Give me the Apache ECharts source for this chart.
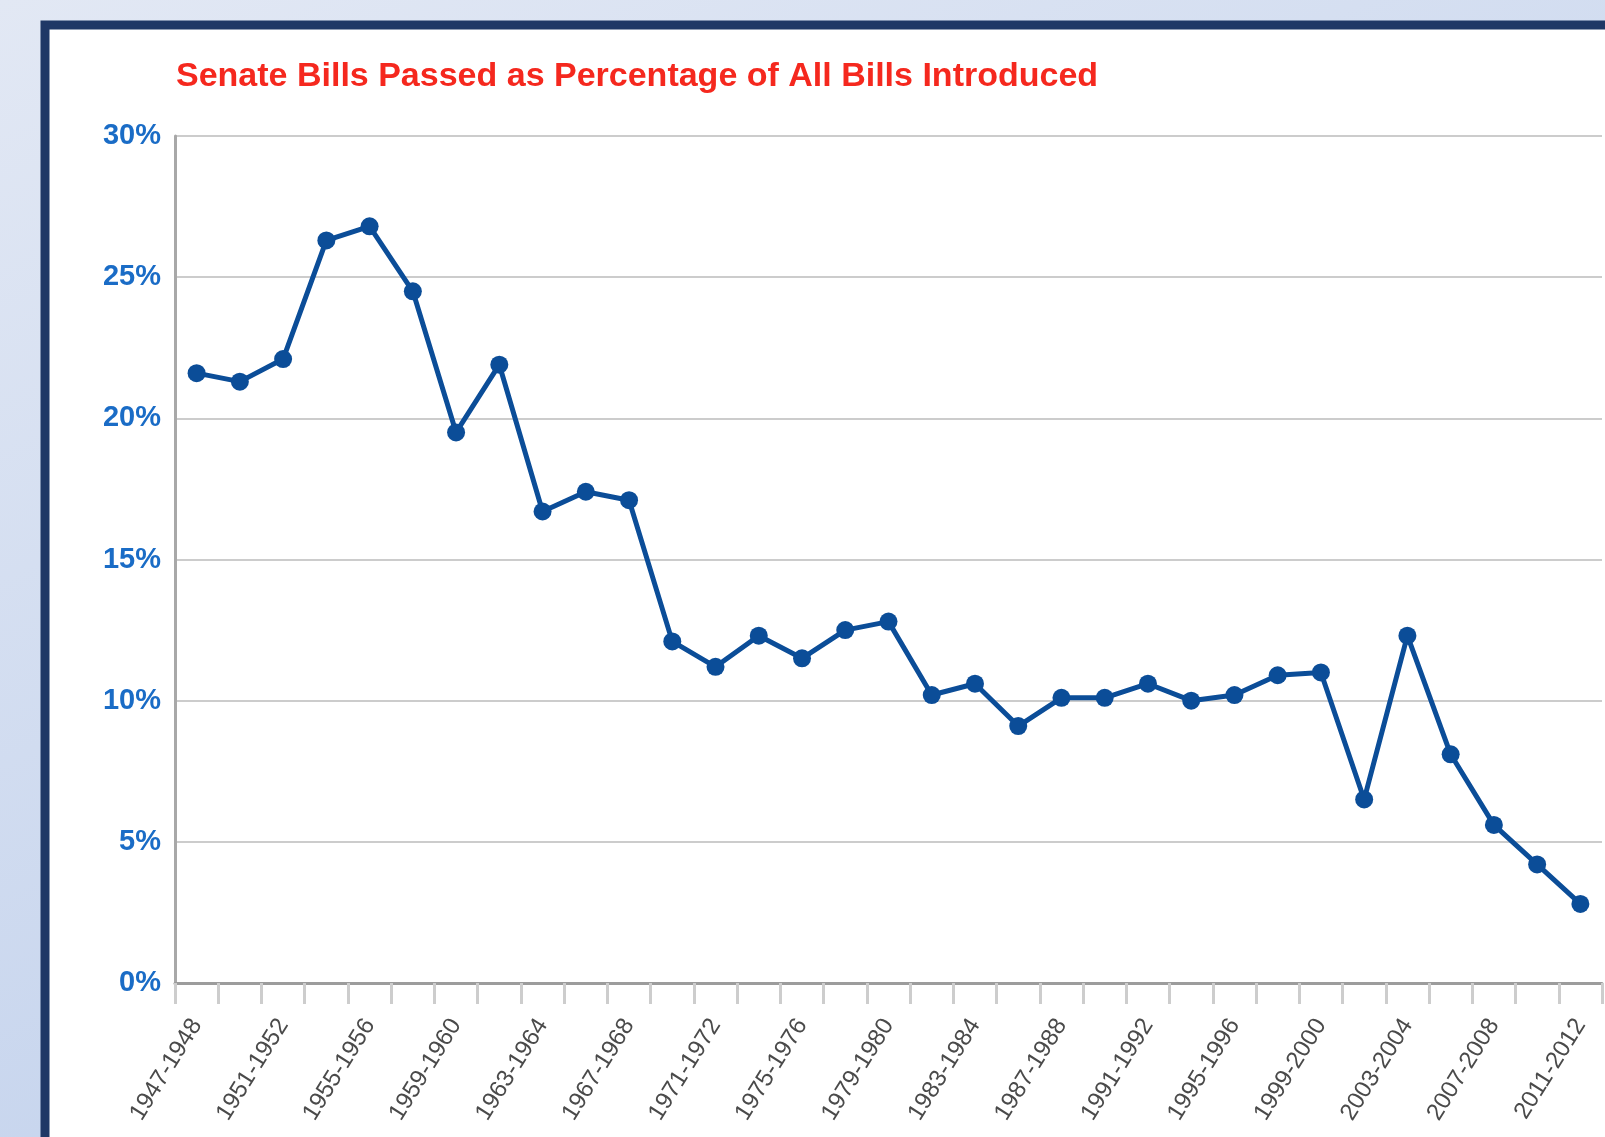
<!DOCTYPE html>
<html>
<head>
<meta charset="utf-8">
<script src="https://cdn.jsdelivr.net/npm/echarts@6/dist/echarts.min.js"></script>
<style>
  html, body { margin: 0; padding: 0; }
  #container { width: 1605px; height: 1137px; }
</style>
</head>
<body>
<div id="container"></div>
<script>
// 国会届次
var congresses = ["1947-1948", "1949-1950", "1951-1952", "1953-1954", "1955-1956", "1957-1958",
    "1959-1960", "1961-1962", "1963-1964", "1965-1966", "1967-1968", "1969-1970", "1971-1972",
    "1973-1974", "1975-1976", "1977-1978", "1979-1980", "1981-1982", "1983-1984", "1985-1986",
    "1987-1988", "1989-1990", "1991-1992", "1993-1994", "1995-1996", "1997-1998", "1999-2000",
    "2001-2002", "2003-2004", "2005-2006", "2007-2008", "2009-2010", "2011-2012"];

// 通过比例 (%)
var passedPct = [21.6, 21.3, 22.1, 26.3, 26.8, 24.5, 19.5, 21.9, 16.7, 17.4, 17.1, 12.1, 11.2,
    12.3, 11.5, 12.5, 12.8, 10.2, 10.6, 9.1, 10.1, 10.1, 10.6, 10.0, 10.2, 10.9, 11.0,
    6.5, 12.3, 8.1, 5.6, 4.2, 2.8];

var yTicks = [0, 5, 10, 15, 20, 25, 30];

var dom = document.getElementById("container");
var myChart = echarts.init(dom);
var option = {
    backgroundColor: new echarts.graphic.LinearGradient(0, 0, 0.3, 1, [
        { offset: 0, color: '#e2e8f4' },
        { offset: 1, color: '#c4d3ed' }
    ]),
    graphic: [{
        type: 'rect',
        z: -10,
        shape: { x: 45, y: 25, width: 1700, height: 1300 },
        style: { fill: '#ffffff', stroke: '#1f3866', lineWidth: 9 }
    }],
    title: {
        text: 'Senate Bills Passed as Percentage of All Bills Introduced',
        left: 176,
        top: 60,
        padding: 0,
        textStyle: {
            color: '#f5281e',
            fontSize: 34,
            fontWeight: 'bold',
            fontFamily: '"Liberation Sans", sans-serif'
        }
    },
    grid: { left: 175, right: 3, top: 136, bottom: 154, containLabel: false },
    xAxis: {
        type: 'category',
        data: congresses,
        boundaryGap: true,
        axisLine: { lineStyle: { color: '#9c9c9c', width: 3 } },
        axisTick: { show: true, interval: 0, length: 21, lineStyle: { color: '#cdcdcd', width: 3 } },
        axisLabel: {
            interval: 1,
            rotate: 58,
            margin: 38,
            color: '#4a4a4a',
            fontSize: 24,
            fontFamily: '"Liberation Sans", sans-serif'
        }
    },
    yAxis: {
        type: 'value',
        min: yTicks[0],
        max: yTicks[yTicks.length - 1],
        interval: 5,
        axisLine: { show: true, lineStyle: { color: '#a8a8a8', width: 3 } },
        axisTick: { show: false },
        splitLine: { lineStyle: { color: '#cccccc', width: 2 } },
        axisLabel: {
            formatter: '{value}%',
            margin: 14,
            color: '#1a6cc6',
            fontSize: 29,
            fontWeight: 'bold',
            fontFamily: '"Liberation Sans", sans-serif'
        }
    },
    series: [{
        type: 'line',
        data: passedPct,
        symbol: 'circle',
        symbolSize: 18,
        lineStyle: { color: '#0b4d98', width: 5 },
        itemStyle: { color: '#0b4d98' }
    }]
};
myChart.setOption(option);
</script>
</body>
</html>
